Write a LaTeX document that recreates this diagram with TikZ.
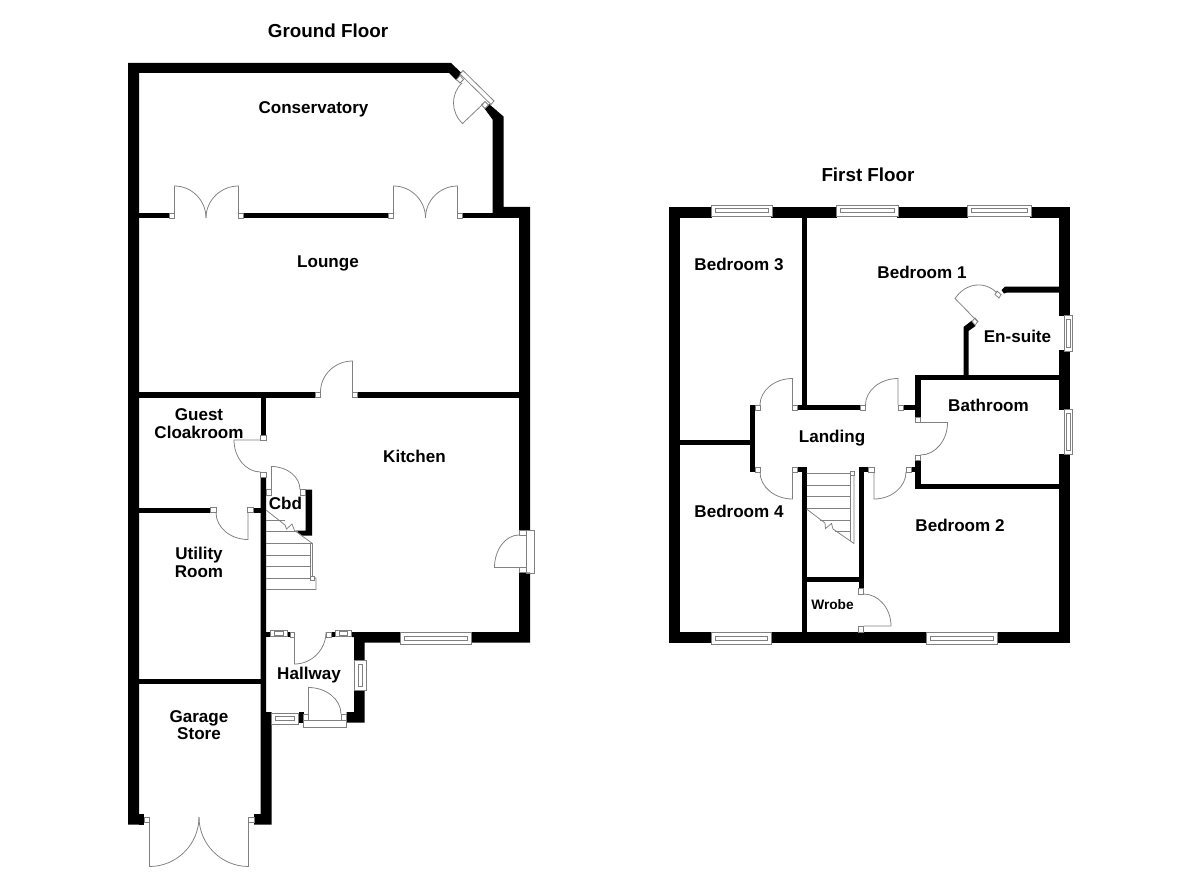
\documentclass[tikz,border=0pt]{standalone}
\usepackage{fontspec}
\setmainfont{Liberation Sans}
\usetikzlibrary{calc}
\tikzset{
  wall/.style={fill=black},
  thinline/.style={draw=black!50,line width=0.22pt},
  jambbox/.style={draw=black!50,line width=0.22pt,fill=white},
  roomlabel/.style={font=\fontsize{4.85pt}{5pt}\selectfont\bfseries,align=center,inner sep=0pt},
  floorlabel/.style={font=\fontsize{5.35pt}{5pt}\selectfont\bfseries,align=center,inner sep=0pt},
  smalllabel/.style={font=\fontsize{3.9pt}{5pt}\selectfont\bfseries,align=center,inner sep=0pt},
}
% hinge, leaf tip, arc end
\newcommand{\doorleaf}[3]{\draw[thinline](#1)--(#2).. controls ($(#2)+.55*(#3)-.55*(#1)$) and ($(#3)+.55*(#2)-.55*(#1)$) .. (#3);}
\newcommand{\jambbox}[4]{\draw[jambbox](#1,#2)rectangle(#3,#4);}
\newcommand{\windowh}[4]{\draw[jambbox](#1,#3)rectangle(#2,#4);\draw[thinline]({#1+4},{(#3+#4)/2-2})rectangle({#2-4},{(#3+#4)/2+2});}
\newcommand{\windowv}[4]{\draw[jambbox](#1,#3)rectangle(#2,#4);\draw[thinline]({(#1+#2)/2-2},{#3+4})rectangle({(#1+#2)/2+2},{#4-4});}
\begin{document}
\begin{tikzpicture}[x=0.01cm,y=-0.01cm]
\useasboundingbox(0,0)rectangle(1200,873);
% ground floor, outer walls
\fill[wall](128,63)--(451,63)--(461.5,73)--(456.5,80.5)--(449,73)--(139,73)--(139,824.5)--(128,824.5)--cycle;
\fill[wall](484.5,108.5)--(489,104)--(503.5,116.5)--(503.5,207)--(530,207)--(530,530)--(519,530)--(519,218)--(492.5,218)--(492.5,119.5)--cycle;
\fill[wall](519,572.5)--(530,572.5)--(530,642.5)--(471,642.5)--(471,632)--(519,632)--cycle;
\fill[wall](352,632)--(400.5,632)--(400.5,642.5)--(364.5,642.5)--(364.5,660.5)--(354,660.5)--(354,637)--(352,637)--cycle;
\fill[wall](354,690)--(364.5,690)--(364.5,722.5)--(346.5,722.5)--(346.5,712)--(354,712)--cycle;
\fill[wall](260.5,477)--(266,477)--(266,712)--(271.5,712)--(271.5,824.5)--(254,824.5)--(254,814)--(260.5,814)--cycle;
\fill[wall](139,814)--(144,814)--(144,824.5)--(139,824.5)--cycle;
% ground floor, inner walls
\fill[wall](139,213)rectangle(169.5,218.5);
\fill[wall](243.5,213)rectangle(388,218.5);
\fill[wall](462.5,213)rectangle(519,218.5);
\fill[wall](139,392)rectangle(315,397.5);
\fill[wall](357.5,392)rectangle(519,397.5);
\fill[wall](260.5,397)rectangle(266,435);
\fill[wall](139,507.5)rectangle(210.5,512.5);
\fill[wall](253,507.5)rectangle(261,512.5);
\fill[wall](139,679)rectangle(261,684);
\fill[wall](305.5,489.5)--(312,489.5)--(312,535.5)--(302,535.5)--(295.5,530.5)--(305.5,530.5)--cycle;
\fill[wall](266,632)rectangle(270.5,637);
\fill[wall](287,632)rectangle(290,637);
\fill[wall](331.5,632)rectangle(335,637);
\fill[wall](298.5,712)rectangle(303.5,722.5);
%
\draw[jambbox](463,70.5)--(494,101)--(491,104.5)--(460,74)--cycle;
\draw[jambbox](460,75.5)--(463.5,79.5)--(460,83)--(456.5,79.5)--cycle;
\draw[jambbox](485,101.5)--(488.5,105)--(485,108.5)--(481.5,105)--cycle;
\doorleaf{483.5,103.5}{462.5,123.5}{462,83}
%
\jambbox{169.5}{213}{174.5}{218.5}
\jambbox{238.5}{213}{243.5}{218.5}
\jambbox{388}{213}{393.5}{218.5}
\jambbox{457.5}{213}{462.5}{218.5}
\doorleaf{174.5,218}{174.5,186}{206,218}
\doorleaf{238.5,218}{238.5,186}{206,218}
\doorleaf{393.5,218}{393.5,186}{425.5,218}
\doorleaf{457.5,218}{457.5,186}{425.5,218}
%
\jambbox{315}{392}{320.5}{397.5}
\jambbox{352.5}{392}{357.5}{397.5}
\doorleaf{352.5,392}{352.5,361}{320.5,392}
%
\jambbox{260.5}{435}{266}{440}
\jambbox{260.5}{472}{266}{477}
\doorleaf{260.5,440}{234,440}{260.5,472}
%
\jambbox{266}{489.5}{271.5}{495}
\jambbox{300}{489.5}{305.5}{495}
\doorleaf{271.5,489.5}{271.5,466.5}{300,489.5}
%
\jambbox{210.5}{507.5}{216}{512.5}
\jambbox{247.5}{507.5}{253}{512.5}
\doorleaf{248,512.5}{248,539.5}{216,512.5}
%
\draw[thinline](266,520)--(285,520);
\draw[thinline](266,531.5)--(298,531.5);
\draw[thinline](266,543.5)--(312.5,543.5);
\draw[thinline](266,555)--(311,555);
\draw[thinline](266,566.5)--(311,566.5);
\draw[thinline](266,578.5)--(311,578.5);
\draw[thinline](266,510)--(285,525)--(286.5,529)--(292,524)--(294.5,530.5)--(312.5,543.5)--(312.5,578)--(316,578)--(316,589.5)--(266,589.5);
\draw[thinline](310.5,543.5)--(310.5,578);
\draw[jambbox](310.5,576.5)rectangle(314,580);
%
\jambbox{519}{530.5}{526.5}{535}
\jambbox{519}{567.5}{526.5}{572}
\draw[thinline](526.5,530)--(534,530)--(534,573)--(526.5,573)--cycle;
\doorleaf{519,567.5}{494.5,567.5}{519,535}
%
\windowh{400.5}{471}{632}{644}
\windowh{270.5}{287}{630}{636}
\windowh{335}{351.5}{630}{636}
\jambbox{290}{632}{294.5}{637}
\jambbox{326}{632}{331.5}{637}
\doorleaf{294.5,632}{294.5,664}{326,632}
\windowv{354}{366}{660.5}{690}
\windowh{271.5}{298.5}{713}{724.5}
\draw[jambbox](303.5,720)rectangle(346.5,727);
\jambbox{303.5}{714}{308.5}{720}
\jambbox{341}{714}{346.5}{720}
\doorleaf{308.5,714}{308.5,687.5}{341,714}
%
\jambbox{144}{817}{149.5}{822.5}
\jambbox{248.5}{817}{254}{822.5}
\doorleaf{149.5,817}{149.5,866.5}{199,817}
\doorleaf{248.5,817}{248.5,866.5}{199,817}
% first floor, outer walls
\fill[wall](669,207)rectangle(680,642.5);
\fill[wall](669,207)rectangle(712,218);
\fill[wall](771,207)rectangle(837,218);
\fill[wall](897,207)rectangle(968,218);
\fill[wall](1030,207)rectangle(1070,218);
\fill[wall](669,632)rectangle(712,642.5);
\fill[wall](770,632)rectangle(926,642.5);
\fill[wall](997,632)rectangle(1070,642.5);
\fill[wall](1059,207)rectangle(1070,316);
\fill[wall](1059,350)rectangle(1070,410);
\fill[wall](1059,454)rectangle(1070,642.5);
% first floor, inner walls
\fill[wall](801.5,218)rectangle(806.5,410);
\fill[wall](797.5,405)rectangle(860.5,410);
\fill[wall](903.5,405)rectangle(915,410);
\fill[wall](915,375)rectangle(920.5,417.5);
\fill[wall](915,375)rectangle(1059,380);
\fill[wall](915,460)rectangle(920.5,489);
\fill[wall](915,484)rectangle(1059,489);
\fill[wall](911.5,467)rectangle(915,472);
\fill[wall](859,467)rectangle(868.5,472);
\fill[wall](859,467)rectangle(864,588.5);
\fill[wall](806,576.5)rectangle(864,582);
\fill[wall](797.5,467)rectangle(806.5,472);
\fill[wall](801.5,467)rectangle(806.5,632);
\fill[wall](749.5,405)rectangle(755,472);
\fill[wall](680,440)rectangle(750,445);
\fill[wall](1059,286.5)--(1005,286.5)--(1001.5,290)--(1004,293.5)--(1007,292.5)--(1059,292.5)--cycle;
\fill[wall](963.5,375)--(968.5,375)--(968.5,331)--(975.5,326)--(972,320.5)--(963.5,327)--cycle;
%
\windowh{711}{772.5}{205}{216.5}
\windowh{836}{898}{205}{216.5}
\windowh{967}{1031}{205}{216.5}
\windowh{711}{771}{632}{644}
\windowh{926}{997}{632}{644}
\windowv{1064}{1072}{315}{351}
\windowv{1064}{1072}{409}{454}
%
\jambbox{755}{405}{760}{410}
\jambbox{792.5}{405}{797.5}{410}
\doorleaf{792.5,405}{792.5,378.5}{760,405}
\jambbox{860.5}{405}{865.5}{410}
\jambbox{898}{405}{903.5}{410}
\doorleaf{898,405}{898,378.5}{865.5,405}
\jambbox{915}{417.5}{920.5}{422.5}
\jambbox{915}{455}{920.5}{460}
\doorleaf{920.5,422.5}{947.5,422.5}{920.5,455}
\jambbox{755}{467}{760}{472}
\jambbox{792.5}{467}{797.5}{472}
\doorleaf{792.5,472}{792.5,499}{760,472}
\jambbox{868.5}{467}{874}{472}
\jambbox{906}{467}{911.5}{472}
\doorleaf{874,472}{874,499}{906,472}
\jambbox{858.5}{588.5}{863.5}{594}
\jambbox{858.5}{626}{863.5}{632}
\doorleaf{863.5,626}{891,626}{863.5,594}
%
\draw[jambbox](997,291)--(1001,294.5)--(999,298)--(995,294.5)--cycle;
\draw[jambbox](975,318)--(978,321.5)--(975,325)--(972,321.5)--cycle;
\doorleaf{977.5,321.5}{955,298.5}{997,293}
%
\draw[thinline](806.5,473.5)--(854,473.5)--(854,543.5)--(833,529)--(831.5,523.5)--(825.5,528.5)--(825,523)--(806.5,509);
\draw[thinline](850.5,473.5)--(850.5,541);
\draw[thinline](806.5,485)--(851,485);
\draw[thinline](806.5,496.5)--(851,496.5);
\draw[thinline](806.5,508.5)--(851,508.5);
\draw[thinline](820,520)--(851,520);
\draw[thinline](835,531)--(851,531);
\draw[jambbox](850.5,471.5)rectangle(854.5,475.5);
% labels
\node[floorlabel](kGround)at(328,31){Ground Floor};
\node[floorlabel](kFirst)at(868,175){First Floor};
\node[roomlabel](kConserv)at(313.5,109){Conservatory};
\node[roomlabel](kLounge)at(328,263){Lounge};
\node[roomlabel](kGuest)at(199,423.5){Guest\\Cloakroom};
\node[roomlabel](kKitchen)at(414.5,456){Kitchen};
\node[roomlabel](kCbd)at(285.5,503){Cbd};
\node[roomlabel](kUtility)at(199,562.5){Utility\\Room};
\node[roomlabel](kHallway)at(309,675){Hallway};
\node[roomlabel](kGarage)at(199,725){Garage\\Store};
\node[roomlabel](kBedC)at(739,264){Bedroom 3};
\node[roomlabel](kBedA)at(922,272){Bedroom 1};
\node[roomlabel](kEnsuite)at(1017.5,336){En-suite};
\node[roomlabel](kBath)at(988.5,405){Bathroom};
\node[roomlabel](kLanding)at(832,438){Landing};
\node[roomlabel](kBedD)at(739,511){Bedroom 4};
\node[roomlabel](kBedB)at(960,525){Bedroom 2};
\node[smalllabel](kWrobe)at(832.5,605){Wrobe};
\end{tikzpicture}
\end{document}
